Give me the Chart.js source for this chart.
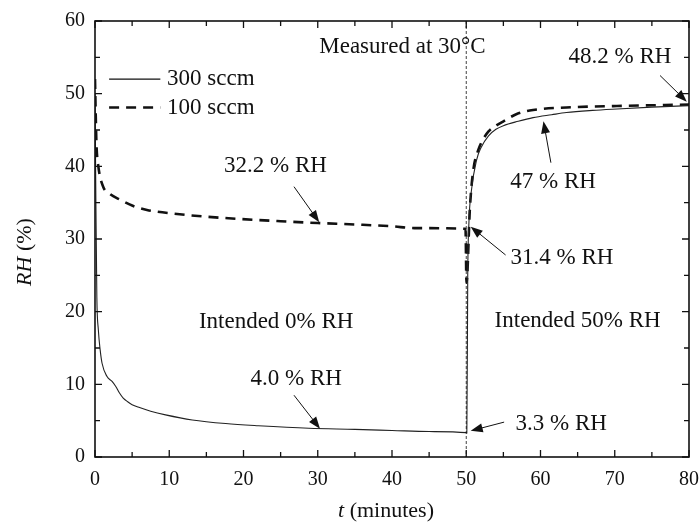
<!DOCTYPE html>
<html>
<head>
<meta charset="utf-8">
<script src="https://cdn.jsdelivr.net/npm/chart.js@4"></script>
<style>
  body { margin: 0; background: #fff; }
</style>
</head>
<body>
<canvas id="rhChart" width="699" height="524"></canvas>
<script>
// 300 sccm (solid)
const t300 = [0, 0.12, 0.25, 0.45, 0.7, 0.95, 1.6, 2.3, 2.8, 3.3, 3.8, 4.4, 5.0, 6.0, 7.5, 9.5, 13.1, 17.6, 22.0, 28.8, 35, 40, 45, 50, 50.08, 50.2, 50.35, 50.7, 51.4, 52, 53, 54, 55, 57, 59, 61.5, 63.5, 67, 70.3, 75, 80];
const rh300 = [50, 35, 22, 17.5, 14.7, 12.9, 11.1, 10.4, 9.7, 8.8, 8.1, 7.6, 7.2, 6.8, 6.3, 5.8, 5.1, 4.6, 4.3, 3.95, 3.8, 3.65, 3.5, 3.35, 3.3, 25, 32, 36.7, 40.9, 42.6, 44.2, 45.1, 45.6, 46.2, 46.7, 47.1, 47.4, 47.7, 47.9, 48.15, 48.35];

// 100 sccm (dashed)
const t100 = [0, 0.1, 0.2, 0.45, 1.1, 2, 3.4, 5, 7, 11.4, 18, 25, 30, 35, 40, 43, 49.9, 50.03, 50.5, 50.95, 51.6, 52, 53, 54, 55, 56.8, 59, 63.5, 70.3, 80];
const rh100 = [52, 47, 43, 40, 37.2, 36.2, 35.4, 34.6, 34.0, 33.4, 32.85, 32.45, 32.2, 32.0, 31.75, 31.5, 31.4, 24, 34.4, 39.5, 42.2, 43.2, 44.8, 45.6, 46.2, 47.2, 47.75, 48.1, 48.3, 48.5];

const xTicks = [0, 10, 20, 30, 40, 50, 60, 70, 80];
const yTicks = [0, 10, 20, 30, 40, 50, 60];
const switchTime = 50;

// text notes: [text, x, y] and arrows: [fromX, fromY, toX, toY] in data units
const notes = [
  ["Measured at 30°C", 41.4, 56.4],
  ["32.2 % RH", 24.3, 40.0],
  ["47 % RH", 61.7, 37.8],
  ["48.2 % RH", 70.7, 55.0],
  ["31.4 % RH", 62.9, 27.4],
  ["Intended 0% RH", 24.4, 18.6],
  ["Intended 50% RH", 65.0, 18.7],
  ["4.0 % RH", 27.1, 10.8],
  ["3.3 % RH", 62.8, 4.6],
];
const arrows = [
  [26.8, 37.2, 30.2, 32.3],
  [61.4, 40.5, 60.4, 46.2],
  [76.1, 52.5, 79.7, 48.9],
  [55.3, 27.8, 50.6, 31.7],
  [26.8, 8.5, 30.3, 3.9],
  [55.1, 4.8, 50.6, 3.6],
];
const legendItems = [
  ["300 sccm", 52.0, []],
  ["100 sccm", 48.1, [10, 7]],
];

const serif = "'Liberation Serif', 'DejaVu Serif', serif";
const ink = "#111";

function pts(xs, ys) {
  return xs.map((x, i) => ({ x: x, y: ys[i] }));
}

function drawArrow(ctx, x1, y1, x2, y2) {
  const ang = Math.atan2(y2 - y1, x2 - x1);
  const len = 12, half = 4.5;
  ctx.beginPath();
  ctx.moveTo(x1, y1);
  ctx.lineTo(x2 - Math.cos(ang) * len * 0.8, y2 - Math.sin(ang) * len * 0.8);
  ctx.stroke();
  ctx.beginPath();
  ctx.moveTo(x2, y2);
  ctx.lineTo(x2 - Math.cos(ang) * len + Math.sin(ang) * half, y2 - Math.sin(ang) * len - Math.cos(ang) * half);
  ctx.lineTo(x2 - Math.cos(ang) * len - Math.sin(ang) * half, y2 - Math.sin(ang) * len + Math.cos(ang) * half);
  ctx.closePath();
  ctx.fill();
}

const framePlugin = {
  id: "frame",
  afterDraw(chart) {
    const ctx = chart.ctx;
    const a = chart.chartArea;
    const xs = chart.scales.x;
    const ys = chart.scales.y;
    ctx.save();
    ctx.strokeStyle = ink;
    ctx.fillStyle = ink;

    // box
    ctx.lineWidth = 1.6;
    ctx.strokeRect(a.left, a.top, a.right - a.left, a.bottom - a.top);

    // inward ticks on all sides
    ctx.lineWidth = 1.3;
    ctx.beginPath();
    for (let v = 0; v <= 80; v += 5) {
      const p = xs.getPixelForValue(v);
      const l = v % 10 === 0 ? 7 : 5;
      ctx.moveTo(p, a.bottom); ctx.lineTo(p, a.bottom - l);
      ctx.moveTo(p, a.top); ctx.lineTo(p, a.top + l);
    }
    for (let v = 0; v <= 60; v += 5) {
      const p = ys.getPixelForValue(v);
      const l = v % 10 === 0 ? 7 : 5;
      ctx.moveTo(a.left, p); ctx.lineTo(a.left + l, p);
      ctx.moveTo(a.right, p); ctx.lineTo(a.right - l, p);
    }
    ctx.stroke();

    // dotted switch line
    const sx = xs.getPixelForValue(switchTime);
    ctx.lineWidth = 0.8;
    ctx.setLineDash([3, 2]);
    ctx.beginPath();
    ctx.moveTo(sx, a.top);
    ctx.lineTo(sx, a.bottom);
    ctx.stroke();
    ctx.setLineDash([]);

    // legend
    ctx.font = "23px " + serif;
    ctx.textBaseline = "middle";
    ctx.textAlign = "left";
    legendItems.forEach(([label, yv, dash], i) => {
      const y = ys.getPixelForValue(yv);
      ctx.lineWidth = i === 0 ? 1.1 : 2.6;
      ctx.setLineDash(dash);
      ctx.beginPath();
      ctx.moveTo(xs.getPixelForValue(1.9), y);
      ctx.lineTo(xs.getPixelForValue(8.8), y);
      ctx.stroke();
      ctx.setLineDash([]);
      ctx.fillText(label, xs.getPixelForValue(9.7), y);
    });

    // notes
    ctx.textAlign = "center";
    notes.forEach(([txt, x, y]) => {
      ctx.fillText(txt, xs.getPixelForValue(x), ys.getPixelForValue(y));
    });

    // arrows
    ctx.lineWidth = 1;
    arrows.forEach(([x1, y1, x2, y2]) => {
      drawArrow(ctx,
        xs.getPixelForValue(x1), ys.getPixelForValue(y1),
        xs.getPixelForValue(x2), ys.getPixelForValue(y2));
    });

    // axis titles with italic symbols
    ctx.textAlign = "left";
    const it = "italic 22px " + serif;
    const rm = "22px " + serif;
    ctx.font = it;
    const wT = ctx.measureText("t").width;
    ctx.font = rm;
    const wM = ctx.measureText(" (minutes)").width;
    let x0 = (a.left + a.right) / 2 - 6 - (wT + wM) / 2;
    ctx.font = it;
    ctx.fillText("t", x0, 511);
    ctx.font = rm;
    ctx.fillText(" (minutes)", x0 + wT, 511);

    ctx.translate(25, 252);
    ctx.rotate(-Math.PI / 2);
    ctx.font = it;
    const wR = ctx.measureText("RH").width;
    ctx.font = rm;
    const wP = ctx.measureText(" (%)").width;
    x0 = -(wR + wP) / 2;
    ctx.font = it;
    ctx.fillText("RH", x0, 0);
    ctx.font = rm;
    ctx.fillText(" (%)", x0 + wR, 0);

    ctx.restore();
  },
};

const ctx = document.getElementById("rhChart").getContext("2d");
new Chart(ctx, {
  type: "scatter",
  data: {
    datasets: [
      {
        label: "300 sccm",
        data: pts(t300, rh300),
        showLine: true,
        borderColor: "#222",
        borderWidth: 1.1,
        pointRadius: 0,
        cubicInterpolationMode: "monotone",
      },
      {
        label: "100 sccm",
        data: pts(t100, rh100),
        showLine: true,
        borderColor: "#111",
        borderWidth: 2.6,
        borderDash: [10, 7],
        pointRadius: 0,
        cubicInterpolationMode: "monotone",
      },
    ],
  },
  options: {
    responsive: false,
    animation: false,
    layout: { padding: { left: 0, right: 10, top: 21, bottom: 0 } },
    plugins: { legend: { display: false }, tooltip: { enabled: false } },
    scales: {
      x: {
        type: "linear",
        min: 0,
        max: 80,
        grid: { display: false },
        border: { display: false },
        afterFit: (s) => { s.height = 67; s.paddingLeft = 0; s.paddingRight = 0; },
        afterBuildTicks: (s) => { s.ticks = xTicks.map((v) => ({ value: v })); },
        ticks: { color: ink, padding: 3, maxRotation: 0, font: { family: serif, size: 20 } },
      },
      y: {
        min: 0,
        max: 60,
        grid: { display: false },
        border: { display: false },
        afterFit: (s) => { s.width = 95; s.paddingTop = 0; s.paddingBottom = 0; },
        afterBuildTicks: (s) => { s.ticks = yTicks.map((v) => ({ value: v })); },
        ticks: { color: ink, padding: 2, font: { family: serif, size: 20 } },
      },
    },
  },
  plugins: [framePlugin],
});
</script>
</body>
</html>
